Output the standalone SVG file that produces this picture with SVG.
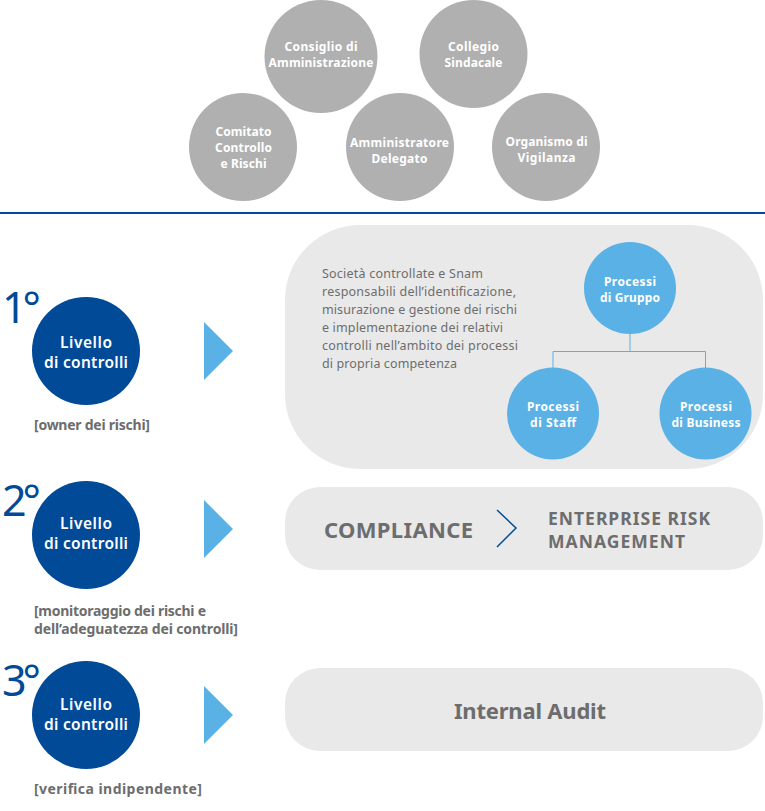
<svg xmlns="http://www.w3.org/2000/svg" width="765" height="811" viewBox="0 0 765 811">
<style>
text{font-family:"Noto Sans","Open Sans","Liberation Sans",sans-serif}
.g{fill:#b0b0b0}.d{fill:#004a97}.l{fill:#5ab1e6}.p{fill:#e9e9e9}
.w{fill:#fff;font-weight:700;font-size:12px;text-anchor:middle}
.w2{fill:#fff;font-weight:600;font-size:15.5px;text-anchor:middle}
.n{fill:#004a97;font-size:43px}
.c{fill:#6d6d6d;font-weight:700;font-size:14px}
.b{fill:#6d6d6d;font-size:12.5px}
.h{fill:#6d6d6d;font-weight:700}
</style>
<g id="top-circles">
<g id="consiglio"><circle class="g" cx="321" cy="56.500" r="56.500"/><text class="w" x="321" y="51" textLength="73">Consiglio di</text><text class="w" x="321" y="67" textLength="105">Amministrazione</text></g>
<g id="collegio"><circle class="g" cx="473.500" cy="54" r="54"/><text class="w" x="473.500" y="51" textLength="51">Collegio</text><text class="w" x="473.500" y="67" textLength="58">Sindacale</text></g>
<g id="comitato"><circle class="g" cx="243" cy="147" r="54"/><text class="w" x="243.500" y="136" textLength="56">Comitato</text><text class="w" x="243.500" y="152" textLength="57">Controllo</text><text class="w" x="243.500" y="168" textLength="46">e Rischi</text></g>
<g id="amministratore"><circle class="g" cx="400" cy="147" r="54"/><text class="w" x="399.500" y="147" textLength="99">Amministratore</text><text class="w" x="399.500" y="163" textLength="56">Delegato</text></g>
<g id="organismo"><circle class="g" cx="546" cy="147" r="54"/><text class="w" x="546.500" y="146" textLength="82">Organismo di</text><text class="w" x="546.500" y="162" textLength="58">Vigilanza</text></g>
</g>
<rect id="divider" x="0" y="212" width="765" height="2" class="d"/>
<g id="panel-1"><rect class="p" x="285" y="225" width="478" height="244" rx="75" ry="75"/>
<text class="b" x="322" y="278" textLength="161">Società controllate e Snam</text>
<text class="b" x="322" y="296" textLength="194">responsabili dell’identificazione,</text>
<text class="b" x="322" y="314" textLength="195">misurazione e gestione dei rischi</text>
<text class="b" x="322" y="332" textLength="181">e implementazione dei relativi</text>
<text class="b" x="322" y="350" textLength="196">controlli nell’ambito dei processi</text>
<text class="b" x="322" y="368" textLength="135">di propria competenza</text></g>
<g id="connectors"><path d="M630 334V351.500M553 368V351.500H705.500V368" fill="none" stroke="#5ab1e6" stroke-width="1"/></g>
<g id="gruppo"><circle class="l" cx="630" cy="288" r="46"/><text class="w" x="630" y="286" textLength="52">Processi</text><text class="w" x="630" y="302" textLength="60">di Gruppo</text></g>
<g id="staff"><circle class="l" cx="553" cy="413.500" r="46"/><text class="w" x="553" y="411" textLength="52">Processi</text><text class="w" x="553" y="427" textLength="46">di Staff</text></g>
<g id="business"><circle class="l" cx="705.500" cy="413.500" r="46"/><text class="w" x="706" y="411" textLength="52">Processi</text><text class="w" x="706" y="427" textLength="69">di Business</text></g>
<g id="level-1"><text class="n" x="2" y="323" textLength="39">1°</text><circle class="d" cx="86" cy="351" r="54"/><text class="w2" x="86" y="348" textLength="52">Livello</text><text class="w2" x="86" y="368" textLength="84">di controlli</text><polygon class="l" points="204,322 233,351 204,380"/><text class="c" x="34" y="430" textLength="116">[owner dei rischi]</text></g>
<g id="level-2"><text class="n" x="2" y="516" textLength="39">2°</text><circle class="d" cx="86" cy="535" r="54"/><text class="w2" x="86" y="529" textLength="52">Livello</text><text class="w2" x="86" y="549" textLength="84">di controlli</text><polygon class="l" points="204,500 233,529 204,558"/><text class="c" x="34" y="616" textLength="172">[monitoraggio dei rischi e</text><text class="c" x="34" y="634" textLength="204">dell’adeguatezza dei controlli]</text></g>
<g id="panel-2"><rect class="p" x="285" y="487" width="478" height="83" rx="35" ry="35"/><text class="h" x="324" y="538" font-size="22" textLength="149">COMPLIANCE</text><path d="M497 510L516 528L497 547" fill="none" stroke="#004a97" stroke-width="1.500"/><text class="h" x="548" y="525" font-size="17.500" textLength="162">ENTERPRISE RISK</text><text class="h" x="548" y="548" font-size="17.500" textLength="137">MANAGEMENT</text></g>
<g id="level-3"><text class="n" x="2" y="696" textLength="39">3°</text><circle class="d" cx="86" cy="715" r="54"/><text class="w2" x="86" y="710" textLength="52">Livello</text><text class="w2" x="86" y="730" textLength="84">di controlli</text><polygon class="l" points="204,686 233,715 204,744"/><text class="c" x="34" y="794" textLength="168">[verifica indipendente]</text></g>
<g id="panel-3"><rect class="p" x="285" y="668" width="478" height="83" rx="35" ry="35"/><text class="h" x="454" y="719" font-size="22" textLength="152">Internal Audit</text></g>
</svg>
